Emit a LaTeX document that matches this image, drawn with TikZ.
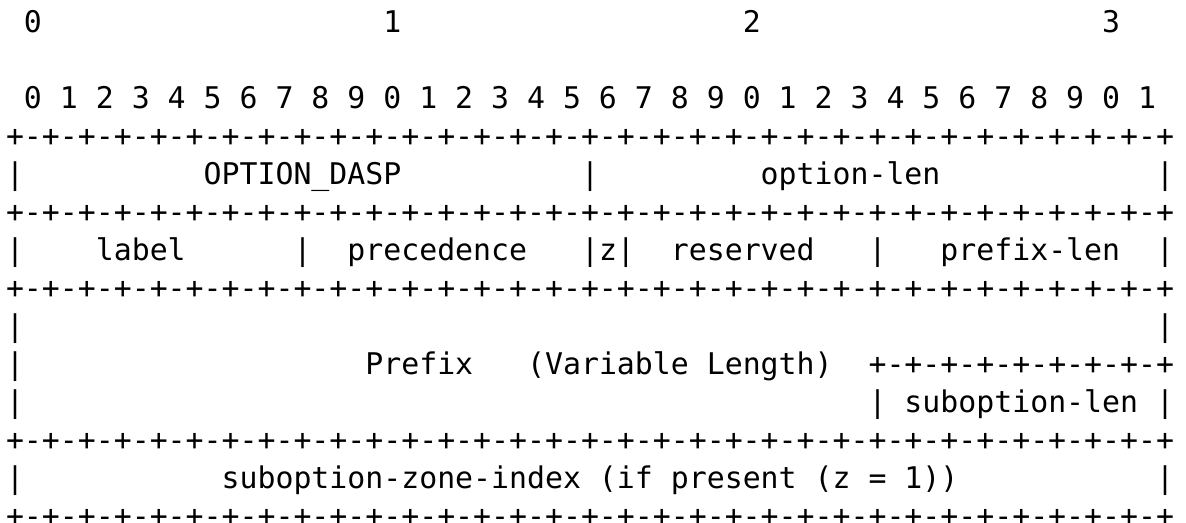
\documentclass[tikz,border=0pt]{standalone}
\usepackage{fontspec}
\newfontfamily\bitfont{DejaVu Sans Mono}
\newcommand{\bitrule}{+-+-+-+-+-+-+-+-+-+-+-+-+-+-+-+-+-+-+-+-+-+-+-+-+-+-+-+-+-+-+-+-+}
\tikzset{asc/.style={anchor=base west, inner sep=0pt, outer sep=0pt,
  font=\bitfont\fontsize{29.85pt}{38pt}\selectfont}}

\begin{document}
\begin{tikzpicture}[x=17.97pt, y=-38pt]
            \useasboundingbox (-0.334,-0.868) rectangle (65.666,12.895);
            % bit numbers
            \node[asc] (Hdr0) at (1,0) {0};
            \node[asc] (Hdr1) at (21,0) {1};
            \node[asc] (Hdr2) at (41,0) {2};
            \node[asc] (Hdr3) at (61,0) {3};
            \node[asc] (Bits) at (1,2) {0 1 2 3 4 5 6 7 8 9 0 1 2 3 4 5 6 7 8 9 0 1 2 3 4 5 6 7 8 9 0 1};
            % rules and bars
            \foreach \r in {3,5,7,11,13}
                \node[asc] (Rule\r) at (0,\r) {\bitrule};
            \foreach \c/\r in {0/4,32/4,64/4,0/6,16/6,32/6,34/6,48/6,64/6,0/8,64/8,0/9,0/10,48/10,64/10,0/12,64/12}
                \node[asc] (Bar\c x\r) at (\c,\r) {|};
            \node[asc] (SubRule) at (48,9) {+-+-+-+-+-+-+-+-+};
            % fields
            \node[asc] (Dasp) at (11,4) {OPTION\_DASP};
            \node[asc] (OptLen) at (42,4) {option-len};
            \node[asc] (Label) at (5,6) {label};
            \node[asc] (Prec) at (19,6) {precedence};
            \node[asc] (Zbit) at (33,6) {z};
            \node[asc] (Resv) at (37,6) {reserved};
            \node[asc] (PfxLen) at (52,6) {prefix-len};
            \node[asc] (Pfx) at (20,9) {Prefix};
            \node[asc] (VarLen) at (29,9) {(Variable Length)};
            \node[asc] (SubLen) at (50,10) {suboption-len};
            \node[asc] (ZoneIdx) at (12,12) {suboption-zone-index (if present (z = 1))};
        \end{tikzpicture}
\end{document}
